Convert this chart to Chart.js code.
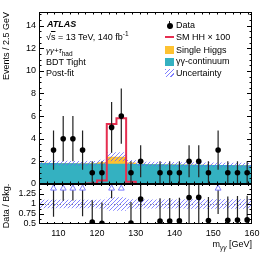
<!DOCTYPE html>
<html>
<head>
<meta charset="utf-8">
<title>HH yy+tau post-fit</title>
<script src="https://cdn.jsdelivr.net/npm/chart.js@4.4.1/dist/chart.umd.min.js"></script>
<style>
  body { margin: 0; background: #fff; }
  #wrap { position: relative; width: 266px; height: 255px; overflow: hidden;
          font-family: "Liberation Sans", Arial, Helvetica, sans-serif; color: #000; }
  #wrap canvas { position: absolute; left: 0; }
  #top { top: 0; }
  #bot { top: 184px; }
  .txt { position: absolute; font-size: 9px; line-height: 9px; white-space: nowrap; z-index: 2; }
  .sym { position: absolute; z-index: 2; }
  .txt sub, .txt sup { font-size: 6.5px; line-height: 0; }
</style>
</head>
<body>
<div id="wrap">
  <canvas id="top" width="266" height="192"></canvas>
  <canvas id="bot" width="266" height="71"></canvas>

  <!-- axis titles -->
  <div class="txt" style="left:2px; top:112px; width:100px; text-align:right; transform:rotate(-90deg); transform-origin:0 0;">Events / 2.5 GeV</div>
  <div class="txt" style="left:2px; top:236px; width:60px; text-align:center; transform:rotate(-90deg); transform-origin:0 0;">Data / Bkg.</div>
  <div class="txt" style="right:14px; top:240px;">m<sub><i>γγ</i></sub> [GeV]</div>

  <!-- ATLAS label block -->
  <div class="txt" style="left:47px; top:20px; font-weight:bold; font-style:italic;">ATLAS</div>
  <div class="txt" style="left:46px; top:33px;">√<span style="text-decoration:overline">s</span> = 13 TeV, 140 fb<sup>-1</sup></div>
  <div class="txt" style="left:46px; top:46px; font-size:8px;"><i>γγ+τ</i><sub>had</sub></div>
  <div class="txt" style="left:46px; top:57.5px;">BDT Tight</div>
  <div class="txt" style="left:46px; top:68.5px;">Post-fit</div>

  <!-- legend -->
  <div class="sym" style="left:169px; top:21px; width:1px; height:8px; background:#222;"></div>
  <div class="sym" style="left:166.5px; top:22.5px; width:6px; height:6px; border-radius:50%; background:#000;"></div>
  <div class="txt" style="left:176px; top:20.5px;">Data</div>
  <div class="sym" style="left:165px; top:36px; width:9px; height:2px; background:#e62e50;"></div>
  <div class="txt" style="left:176px; top:33px;">SM HH × 100</div>
  <div class="sym" style="left:165px; top:46px; width:9px; height:8px; background:#fec231;"></div>
  <div class="txt" style="left:176px; top:45.5px;">Single Higgs</div>
  <div class="sym" style="left:165px; top:57.5px; width:9px; height:8px; background:#34b1c1;"></div>
  <div class="txt" style="left:176px; top:57px;">γγ-continuum</div>
  <div class="sym" style="left:165px; top:69px; width:9px; height:8px; background:repeating-linear-gradient(135deg, rgba(95,95,255,0.8) 0 1px, transparent 1px 3px);"></div>
  <div class="txt" style="left:176px; top:69px;">Uncertainty</div>
</div>

<script>
// ---- data ----
var binEdges = [105, 107.5, 110, 112.5, 115, 117.5, 120, 122.5, 125, 127.5, 130,
                132.5, 135, 137.5, 140, 142.5, 145, 147.5, 150, 152.5, 155, 157.5];
var xMax = 160;
var dataCounts  = [0, 3, 4, 4, 3, 1, 1, 5, 6, 1, 2, 0, 1, 1, 1, 2, 2, 1, 3, 1, 1, 1];
var gammaCont   = [1.86, 1.85, 1.84, 1.83, 1.82, 1.81, 1.80, 1.79, 1.78, 1.77, 1.76,
                   1.75, 1.74, 1.73, 1.72, 1.71, 1.70, 1.69, 1.68, 1.67, 1.66, 1.65];
var singleHiggs = [0.01, 0.01, 0.01, 0.01, 0.01, 0.02, 0.13, 0.62, 0.62, 0.13, 0.02,
                   0.01, 0.01, 0.01, 0.01, 0.01, 0.01, 0.01, 0.01, 0.01, 0.01, 0.01];
var hhSignal    = [0, 0, 0, 0, 0, 0.05, 0.3, 5.3, 5.8, 0.2, 0, 0, 0, 0, 0, 0, 0, 0, 0, 0, 0, 0];
var bkgUnc      = [0.2, 0.2, 0.2, 0.2, 0.2, 0.2, 0.22, 0.4, 0.4, 0.22, 0.2,
                   0.2, 0.2, 0.2, 0.2, 0.2, 0.2, 0.2, 0.2, 0.2, 0.2, 0.2];

var xTicks = [110, 120, 130, 140, 150, 160];
var yTicks = [0, 2, 4, 6, 8, 10, 12, 14];
var ratioTicks = [0.5, 0.75, 1, 1.25];
var yMax = 15.2;
var ratioMin = 0.5, ratioMax = 1.5;

// colours
var teal = '#34b1c1', orange = '#fec231', red = '#e62e50';

// ---- derived ----
var binWidth = binEdges[1] - binEdges[0];
var centers = binEdges.map(function (e) { return e + binWidth / 2; });
var total = gammaCont.map(function (c, i) { return c + singleHiggs[i]; });

function steps(vals) {
    var pts = binEdges.map(function (e, i) { return {x: e, y: vals[i]}; });
    pts.push({x: xMax, y: vals[vals.length - 1]});
    return pts;
}

function hatch(color) {
    var c = document.createElement('canvas');
    c.width = 4; c.height = 4;
    var g = c.getContext('2d');
    g.strokeStyle = color;
    g.lineWidth = 0.9;
    g.beginPath();
    g.moveTo(0, 4); g.lineTo(4, 0);
    g.moveTo(-1, 1); g.lineTo(1, -1);
    g.moveTo(3, 5); g.lineTo(5, 3);
    g.stroke();
    return g.createPattern(c, 'repeat');
}
var hatchFill = hatch('rgba(95,95,255,0.85)');

// upper panel points with sqrt(N) errors
var dataPts = [];
dataCounts.forEach(function (n, i) {
    if (n <= 0) return;
    dataPts.push({x: centers[i], y: n, lo: n - Math.sqrt(n), hi: n + Math.sqrt(n)});
});

// ratio points, off-scale ones become arrows
var arrowInset = 0.11;
var ratioPts = [], ratioArrows = [];
dataCounts.forEach(function (n, i) {
    if (n <= 0) return;
    var b = total[i], s = Math.sqrt(n);
    var p = {x: centers[i], y: n / b, lo: (n - s) / b, hi: (n + s) / b};
    if (p.y > ratioMax) {
        p.y = ratioMax - arrowInset;
        ratioArrows.push(p);
    } else {
        ratioPts.push(p);
    }
});

// ---- plugins ----
var errorBars = {
    id: 'errorBars',
    beforeDatasetDraw: function (chart, args) {
        var ds = chart.data.datasets[args.index];
        if (!ds.errorBars) return;
        var ctx = chart.ctx, a = chart.chartArea;
        var xs = chart.scales.x, ys = chart.scales.y;
        ctx.save();
        ctx.beginPath();
        ctx.rect(a.left, a.top, a.right - a.left, a.bottom - a.top);
        ctx.clip();
        ctx.strokeStyle = '#222';
        ctx.lineWidth = 1.2;
        ctx.beginPath();
        ds.data.forEach(function (p) {
            var px = xs.getPixelForValue(p.x);
            ctx.moveTo(px, ys.getPixelForValue(p.lo));
            ctx.lineTo(px, ys.getPixelForValue(p.hi));
        });
        ctx.stroke();
        ctx.restore();
    }
};

// ATLAS-style frame with inward ticks on all four sides
var frame = {
    id: 'frame',
    beforeDatasetsDraw: function (chart, args, o) {
        if (o.refLine === undefined) return;
        var ctx = chart.ctx, a = chart.chartArea, ys = chart.scales.y;
        var py = Math.round(ys.getPixelForValue(o.refLine)) + 0.5;
        ctx.save();
        ctx.strokeStyle = '#888';
        ctx.lineWidth = 1;
        ctx.setLineDash([1, 2]);
        ctx.beginPath();
        ctx.moveTo(a.left, py); ctx.lineTo(a.right, py);
        ctx.stroke();
        ctx.restore();
    },
    afterDatasetsDraw: function (chart, args, o) {
        var ctx = chart.ctx, a = chart.chartArea;
        var xs = chart.scales.x, ys = chart.scales.y;
        ctx.save();
        ctx.strokeStyle = '#000';
        ctx.lineWidth = 1;
        ctx.strokeRect(a.left + 0.5, a.top + 0.5, a.right - a.left - 1, a.bottom - a.top - 1);
        ctx.beginPath();
        var n = Math.round((xs.max - xs.min) / o.xMinor), i, v, len, p;
        for (i = 1; i < n; i++) {
            v = xs.min + i * o.xMinor;
            len = Math.abs(v / o.xMajor - Math.round(v / o.xMajor)) < 1e-6 ? o.xLen : o.xLen / 2;
            p = Math.round(xs.getPixelForValue(v)) + 0.5;
            ctx.moveTo(p, a.bottom); ctx.lineTo(p, a.bottom - len);
            ctx.moveTo(p, a.top); ctx.lineTo(p, a.top + len);
        }
        n = Math.round((ys.max - ys.min) / o.yMinor);
        for (i = 1; i <= n; i++) {
            v = ys.min + i * o.yMinor;
            if (v >= ys.max - 1e-6) break;
            len = Math.abs(v / o.yMajor - Math.round(v / o.yMajor)) < 1e-6 ? o.yLen : o.yLen / 2;
            p = Math.round(ys.getPixelForValue(v)) + 0.5;
            ctx.moveTo(a.left, p); ctx.lineTo(a.left + len, p);
            ctx.moveTo(a.right, p); ctx.lineTo(a.right - len, p);
        }
        ctx.stroke();
        ctx.restore();
    }
};

var tickFont = {family: 'Liberation Sans', size: 9};

function xScale(show) {
    return {
        type: 'linear', min: binEdges[0], max: xMax, display: show,
        grid: {display: false, drawTicks: false}, border: {display: false},
        afterBuildTicks: function (s) { s.ticks = xTicks.map(function (v) { return {value: v}; }); },
        afterFit: function (s) {
            s.height = show ? 31 : 0;
            s.paddingLeft = 0; s.paddingRight = 0;
        },
        ticks: {font: tickFont, color: '#000', padding: 4, maxRotation: 0, autoSkip: false,
                callback: function (v) { return String(v); }}
    };
}

function yScale(min, max, list) {
    return {
        type: 'linear', min: min, max: max,
        grid: {display: false, drawTicks: false}, border: {display: false},
        afterBuildTicks: function (s) { s.ticks = list.map(function (v) { return {value: v}; }); },
        afterFit: function (s) {
            s.width = 39;
            s.paddingTop = 0; s.paddingBottom = 0;
        },
        ticks: {font: tickFont, color: '#000', padding: 3, autoSkip: false,
                callback: function (v) { return String(v); }}
    };
}

function stepLine(label, vals, extra) {
    var ds = {label: label, data: steps(vals), stepped: true, pointRadius: 0,
              borderWidth: 0, fill: false};
    for (var k in extra) ds[k] = extra[k];
    return ds;
}

var bandHi = total.map(function (t, i) { return t + bkgUnc[i]; });
var bandLo = total.map(function (t, i) { return t - bkgUnc[i]; });

// ---- upper panel ----
new Chart(document.getElementById('top'), {
    type: 'line',
    data: {
        datasets: [
            {label: 'Data', data: dataPts, showLine: false, errorBars: true, order: 0,
             pointRadius: 2.8, pointBackgroundColor: '#000', pointBorderWidth: 0},
            stepLine('SM HH x 100', hhSignal, {borderColor: red, borderWidth: 2, order: 1}),
            stepLine('Uncertainty', bandHi, {fill: '+1', backgroundColor: hatchFill, order: 2}),
            stepLine('unc-lo', bandLo, {order: 3}),
            stepLine('yy-continuum', gammaCont, {fill: 'origin', backgroundColor: teal, order: 4}),
            stepLine('Single Higgs', total, {fill: 'origin', backgroundColor: orange, order: 5})
        ]
    },
    options: {
        responsive: false, animation: false, events: [],
        layout: {autoPadding: false, padding: {left: 0, right: 14, top: 12, bottom: 8}},
        scales: {x: xScale(false), y: yScale(0, yMax, yTicks)},
        plugins: {
            legend: {display: false}, tooltip: {enabled: false},
            frame: {xMinor: 2, xMajor: 10, xLen: 5, yMinor: 0.5, yMajor: 2, yLen: 5}
        }
    },
    plugins: [errorBars, frame]
});

// ---- ratio panel ----
var ratioBandHi = total.map(function (t, i) { return 1 + bkgUnc[i] / t; });
var ratioBandLo = total.map(function (t, i) { return 1 - bkgUnc[i] / t; });

new Chart(document.getElementById('bot'), {
    type: 'line',
    data: {
        datasets: [
            {label: 'Data', data: ratioPts, showLine: false, errorBars: true, order: 0,
             pointRadius: 2.8, pointBackgroundColor: '#000', pointBorderWidth: 0},
            {label: 'off-scale', data: ratioArrows, showLine: false, errorBars: true, order: 1,
             pointStyle: 'triangle', pointRadius: 3.4, pointBackgroundColor: '#fff',
             pointBorderColor: '#7f7fff', pointBorderWidth: 1},
            stepLine('Uncertainty', ratioBandHi, {fill: '+1', backgroundColor: hatchFill, order: 2}),
            stepLine('unc-lo', ratioBandLo, {order: 3})
        ]
    },
    options: {
        responsive: false, animation: false, events: [],
        layout: {autoPadding: false, padding: {left: 0, right: 14, top: 0, bottom: 0}},
        scales: {x: xScale(true), y: yScale(ratioMin, ratioMax, ratioTicks)},
        plugins: {
            legend: {display: false}, tooltip: {enabled: false},
            frame: {xMinor: 2, xMajor: 10, xLen: 4, yMinor: 0.125, yMajor: 0.25, yLen: 5, refLine: 1}
        }
    },
    plugins: [errorBars, frame]
});
</script>
</body>
</html>
